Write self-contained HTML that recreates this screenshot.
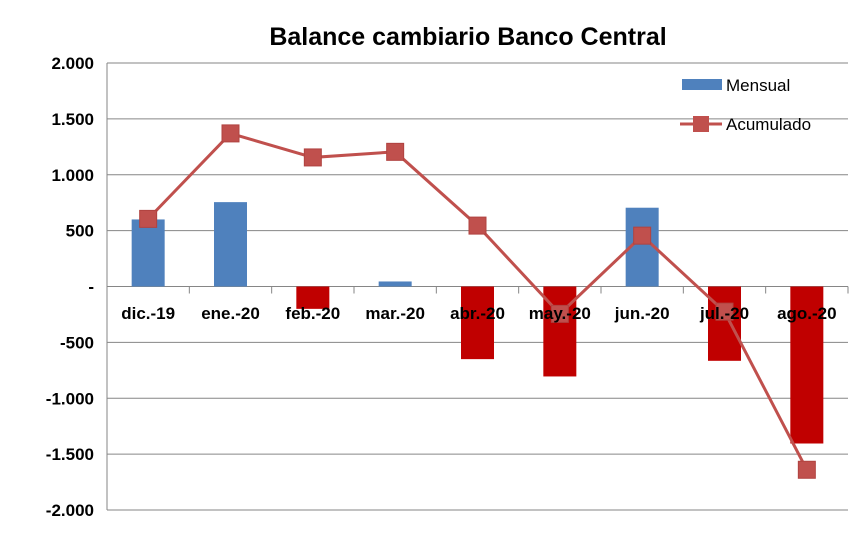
<!DOCTYPE html>
<html><head><meta charset="utf-8">
<style>
body{margin:0;background:#fff;}
svg text{font-family:"Liberation Sans",Arial,sans-serif;}
</style></head>
<body>
<svg id="chart" width="866" height="533" xmlns="http://www.w3.org/2000/svg">
<text x="468" y="45" text-anchor="middle" font-size="25" font-weight="bold" fill="#000">Balance cambiario Banco Central</text>
<g id="grid"></g><g id="bars"></g><g id="line"></g><g id="labels"></g>
<g>
<rect x="682" y="79" width="40" height="11" fill="#4F81BD"/>
<text x="726" y="91" font-size="17">Mensual</text>
<line x1="680" y1="124" x2="722" y2="124" stroke="#C0504D" stroke-width="3"/>
<rect x="693" y="116" width="16" height="16" fill="#C0504D"/>
<text x="726" y="130" font-size="17">Acumulado</text>
</g>
</svg>
<script>
const categories=["dic.-19","ene.-20","feb.-20","mar.-20","abr.-20","may.-20","jun.-20","jul.-20","ago.-20"];
const mensual=[600,755,-200,45,-650,-805,705,-665,-1405];
const acumulado=[605,1370,1155,1205,545,-245,455,-225,-1640];
const ticks=[2000,1500,1000,500,0,-500,-1000,-1500,-2000];
const tickLabels=["2.000","1.500","1.000","500","-","-500","-1.000","-1.500","-2.000"];
const NS="http://www.w3.org/2000/svg";
const L=107,R=848,T=63,B=510;
const y=v=>T+(2000-v)/4000*(B-T);
const bw=(R-L)/categories.length;
const x=i=>L+bw*(i+0.5);
function mk(tag,attrs,parent){const e=document.createElementNS(NS,tag);for(const k in attrs)e.setAttribute(k,attrs[k]);document.getElementById(parent).appendChild(e);return e;}
ticks.forEach((t,i)=>{
 const g=mk("line",{x1:L,x2:R,y1:y(t),y2:y(t),stroke:"#868686","stroke-width":1},"grid");
 
 
 const tx=mk("text",{x:L-13,y:y(t)+6,"text-anchor":"end","font-size":"17","font-weight":"bold"},"labels");
 tx.textContent=tickLabels[i];
 
 
});
const ax=mk("line",{x1:L,x2:L,y1:T,y2:B,stroke:"#868686","stroke-width":1},"grid");


for(let i=1;i<=categories.length;i++){
 const tk=mk("line",{x1:L+bw*i,x2:L+bw*i,y1:y(0),y2:y(0)+7,stroke:"#868686","stroke-width":1},"grid");
 
 
}
mensual.forEach((v,i)=>{
 const top=Math.min(y(v),y(0)),h=Math.abs(y(v)-y(0));
 const r=mk("rect",{x:x(i)-16.5,y:top,width:33,height:h,fill:v>=0?"#4F81BD":"#C00000"},"bars");
 
 
});
categories.forEach((c,i)=>{
 const t=mk("text",{x:x(i),y:319,"text-anchor":"middle","font-size":"17","font-weight":"bold"},"labels");
 t.textContent=c;
 
 
});
const pl=mk("polyline",{points:acumulado.map((v,i)=>x(i)+","+y(v)).join(" "),fill:"none",stroke:"#C0504D","stroke-width":3},"line");


acumulado.forEach((v,i)=>{
 const m=mk("rect",{x:x(i)-8.5,y:y(v)-8.5,width:17,height:17,fill:"#C0504D",stroke:"#B04340","stroke-width":1},"line");
 
 
});
</script>
</body></html>
